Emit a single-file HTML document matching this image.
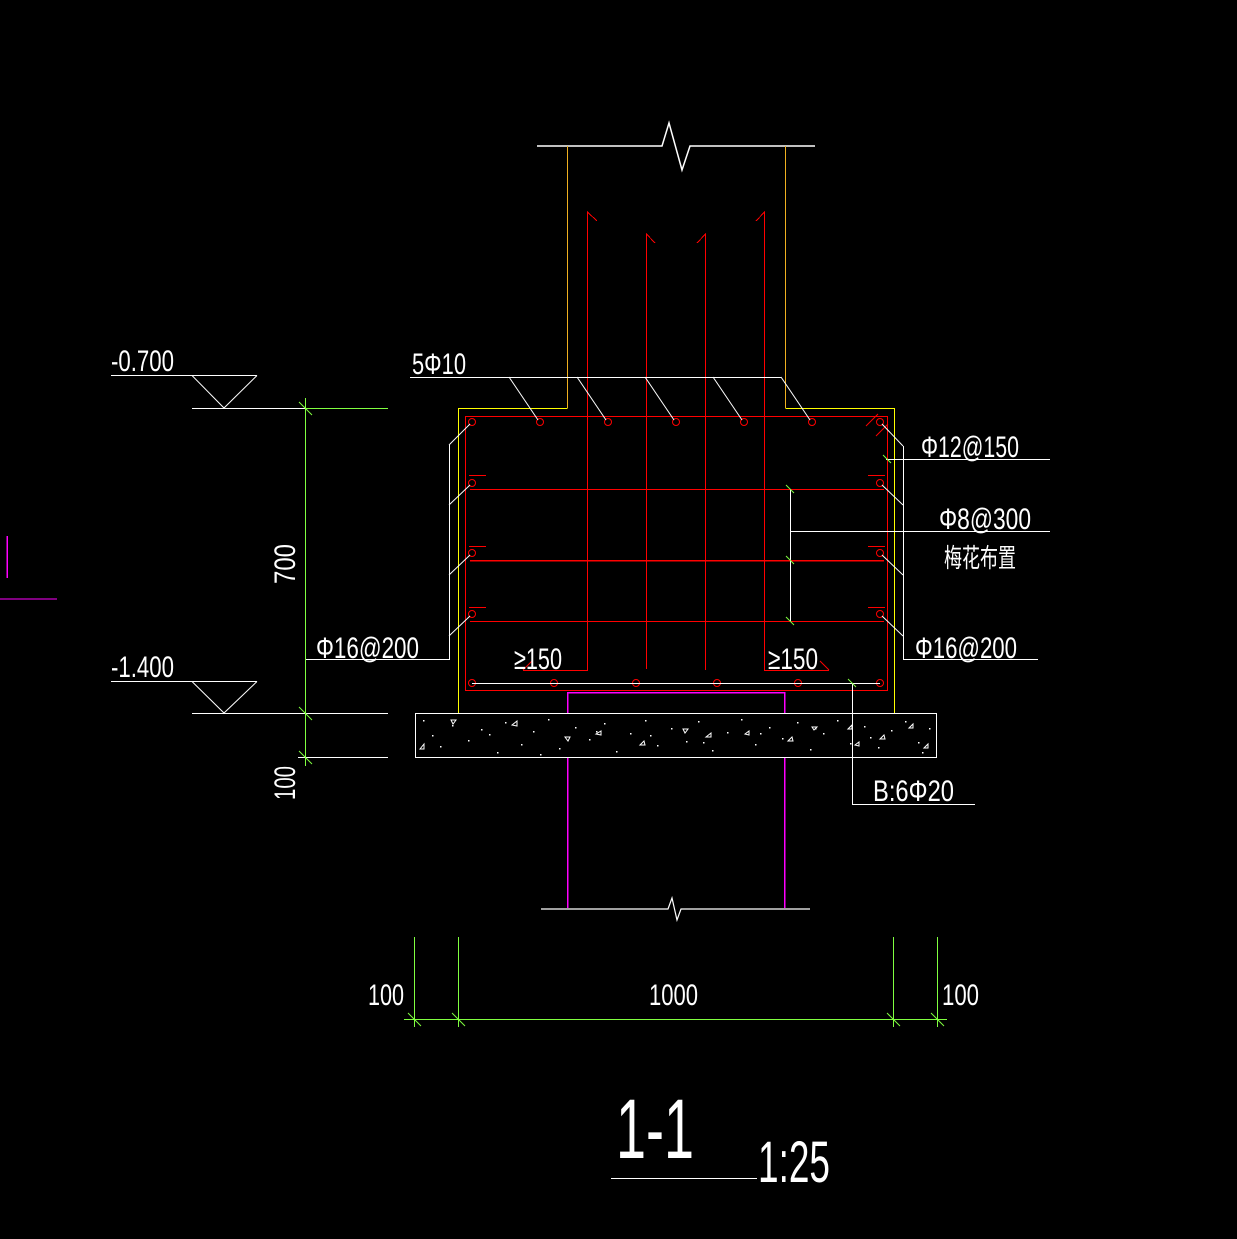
<!DOCTYPE html>
<html><head><meta charset="utf-8"><style>
html,body{margin:0;padding:0;background:#000;}
svg{display:block;}
text{font-family:"Liberation Sans","Noto Sans CJK SC",sans-serif;fill:#fff;}
</style></head><body>
<svg width="1237" height="1239" viewBox="0 0 1237 1239" xmlns="http://www.w3.org/2000/svg" shape-rendering="crispEdges">
<rect width="1237" height="1239" fill="#000"/>
<!-- left stray -->
<line x1="7" y1="536" x2="7" y2="578" stroke="#ff00ff" stroke-width="1.5"/>
<line x1="0" y1="599" x2="57" y2="599" stroke="#ff00ff" stroke-width="1"/>

<!-- column top break -->
<polyline points="537,146 662,146 669,123 682,170 690,146 815,146" fill="none" stroke="#fff" stroke-width="1.5" shape-rendering="auto"/>
<line x1="567.5" y1="146" x2="567.5" y2="408" stroke="#f0b020" stroke-width="1"/>
<line x1="785.5" y1="146" x2="785.5" y2="408" stroke="#f0b020" stroke-width="1"/>
<!-- yellow outline -->
<polyline points="567.5,408.5 458.5,408.5 458.5,713" fill="none" stroke="#ffff00" stroke-width="1.2"/>
<polyline points="785.5,408.5 894.5,408.5 894.5,713" fill="none" stroke="#ffff00" stroke-width="1.2"/>

<!-- red stirrup -->
<rect x="465.5" y="416.5" width="422" height="274" fill="none" stroke="#ff0000" stroke-width="1.2"/>
<g stroke="#ff0000" stroke-width="1">
<line x1="470" y1="489.5" x2="884" y2="489.5"/>
<line x1="470" y1="560.5" x2="884" y2="560.5" stroke-width="1.5"/>
<line x1="470" y1="621.5" x2="884" y2="621.5"/>
<!-- hooks -->
<line x1="469" y1="475.5" x2="486" y2="475.5"/><line x1="868" y1="475.5" x2="885" y2="475.5"/>
<line x1="469" y1="546.5" x2="486" y2="546.5"/><line x1="868" y1="546.5" x2="885" y2="546.5"/>
<line x1="469" y1="607.5" x2="486" y2="607.5"/><line x1="868" y1="607.5" x2="885" y2="607.5"/>
<line x1="866" y1="426" x2="878" y2="414" shape-rendering="auto"/>
<line x1="876" y1="436" x2="888" y2="424" shape-rendering="auto"/>
<!-- vertical bars -->
<polyline points="597,221 587.5,212 587.5,670.5 523,670.5" fill="none"/>
<line x1="523" y1="670" x2="532" y2="661" shape-rendering="auto"/>
<polyline points="655,243 646.5,234 646.5,669" fill="none"/>
<polyline points="697,243 705.5,234 705.5,670" fill="none"/>
<polyline points="756,221 764.5,212 764.5,670.5 829,670.5" fill="none"/>
<line x1="829" y1="670" x2="820" y2="661" shape-rendering="auto"/>
</g>
<!-- rebar dots -->
<g fill="none" stroke="#ff0000" stroke-width="1" shape-rendering="auto">
<circle cx="472" cy="422" r="3.5"/><circle cx="540" cy="422" r="3.5"/><circle cx="608" cy="422" r="3.5"/><circle cx="676" cy="422" r="3.5"/><circle cx="744" cy="422" r="3.5"/><circle cx="812" cy="422" r="3.5"/><circle cx="880" cy="422" r="3.5"/>
<circle cx="472" cy="483" r="3.5"/><circle cx="880" cy="483" r="3.5"/>
<circle cx="472" cy="553" r="3.5"/><circle cx="880" cy="553" r="3.5"/>
<circle cx="472" cy="614" r="3.5"/><circle cx="880" cy="614" r="3.5"/>
<circle cx="472" cy="683" r="3.5"/><circle cx="554" cy="683" r="3.5"/><circle cx="636" cy="683" r="3.5"/><circle cx="717" cy="683" r="3.5"/><circle cx="798" cy="683" r="3.5"/><circle cx="880" cy="683" r="3.5"/>
</g>
<line x1="472" y1="683.5" x2="880" y2="683.5" stroke="#fff" stroke-width="1"/>

<!-- pile -->
<polyline points="567.5,908 567.5,692.5 784.5,692.5 784.5,908" fill="none" stroke="#ff00ff" stroke-width="1.5"/>
<polyline points="541,909 668,909 672,898 677,920 681,909 810,909" fill="none" stroke="#fff" stroke-width="1.2" shape-rendering="auto"/>

<!-- pad -->
<rect x="415.5" y="713.5" width="521" height="44" fill="#000" stroke="#fff" stroke-width="1.2"/>
<g fill="#fff">
<rect x="423" y="720" width="1.5" height="1.5"/><rect x="440" y="746" width="1.5" height="1.5"/><rect x="452" y="725" width="1.5" height="1.5"/><rect x="468" y="740" width="1.5" height="1.5"/><rect x="481" y="729" width="1.5" height="1.5"/><rect x="497" y="752" width="1.5" height="1.5"/><rect x="505" y="722" width="1.5" height="1.5"/><rect x="521" y="744" width="1.5" height="1.5"/><rect x="533" y="731" width="1.5" height="1.5"/><rect x="548" y="719" width="1.5" height="1.5"/><rect x="559" y="748" width="1.5" height="1.5"/><rect x="575" y="727" width="1.5" height="1.5"/><rect x="589" y="739" width="1.5" height="1.5"/><rect x="604" y="723" width="1.5" height="1.5"/><rect x="616" y="751" width="1.5" height="1.5"/><rect x="630" y="733" width="1.5" height="1.5"/><rect x="645" y="720" width="1.5" height="1.5"/><rect x="657" y="745" width="1.5" height="1.5"/><rect x="671" y="728" width="1.5" height="1.5"/><rect x="686" y="741" width="1.5" height="1.5"/><rect x="698" y="721" width="1.5" height="1.5"/><rect x="712" y="750" width="1.5" height="1.5"/><rect x="727" y="732" width="1.5" height="1.5"/><rect x="741" y="719" width="1.5" height="1.5"/><rect x="755" y="744" width="1.5" height="1.5"/><rect x="769" y="727" width="1.5" height="1.5"/><rect x="782" y="738" width="1.5" height="1.5"/><rect x="797" y="722" width="1.5" height="1.5"/><rect x="810" y="749" width="1.5" height="1.5"/><rect x="823" y="733" width="1.5" height="1.5"/><rect x="837" y="720" width="1.5" height="1.5"/><rect x="850" y="743" width="1.5" height="1.5"/><rect x="864" y="726" width="1.5" height="1.5"/><rect x="878" y="747" width="1.5" height="1.5"/><rect x="891" y="730" width="1.5" height="1.5"/><rect x="905" y="721" width="1.5" height="1.5"/><rect x="918" y="742" width="1.5" height="1.5"/><rect x="929" y="728" width="1.5" height="1.5"/>
<rect x="432" y="735" width="1.5" height="1.5"/><rect x="489" y="734" width="1.5" height="1.5"/><rect x="540" y="754" width="1.5" height="1.5"/><rect x="596" y="731" width="1.5" height="1.5"/><rect x="650" y="735" width="1.5" height="1.5"/><rect x="703" y="742" width="1.5" height="1.5"/><rect x="760" y="733" width="1.5" height="1.5"/><rect x="815" y="728" width="1.5" height="1.5"/><rect x="870" y="737" width="1.5" height="1.5"/><rect x="922" y="752" width="1.5" height="1.5"/>
</g>
<g fill="none" stroke="#fff" stroke-width="1" shape-rendering="auto">
<path d="M420,749 l4,-5 l0,5z"/><path d="M451,720 l5,0 l-3,4z"/><path d="M512,725 l5,-4 l0,5z"/><path d="M565,737 l5,0 l-2,4z"/><path d="M596,734 l5,-3 l0,4z"/><path d="M640,745 l4,-4 l1,4z"/><path d="M683,729 l5,0 l-3,4z"/><path d="M706,737 l5,-4 l0,4z"/><path d="M745,734 l4,-3 l0,4z"/><path d="M788,741 l4,-4 l1,4z"/><path d="M812,727 l5,0 l-3,3z"/><path d="M848,729 l4,-4 l0,4z"/><path d="M880,739 l4,-4 l1,4z"/><path d="M855,745 l4,-3 l0,4z"/><path d="M909,728 l4,-4 l0,4z"/><path d="M924,748 l4,-4 l0,4z"/>
</g>

<!-- 5Φ10 leader -->
<g stroke="#fff" stroke-width="1" shape-rendering="auto">
<line x1="410" y1="377.5" x2="781" y2="377.5" shape-rendering="crispEdges"/>
<line x1="509" y1="377" x2="538" y2="420"/><line x1="577" y1="377" x2="606" y2="420"/><line x1="645" y1="377" x2="674" y2="420"/><line x1="713" y1="377" x2="742" y2="420"/><line x1="781" y1="377" x2="810" y2="420"/>
<!-- left leaders -->
<polyline points="305,659.5 449.5,659.5 449.5,445" fill="none" shape-rendering="crispEdges"/>
<line x1="449" y1="445" x2="470" y2="424"/><line x1="449" y1="505" x2="470" y2="485"/><line x1="449" y1="575" x2="470" y2="555"/><line x1="449" y1="636" x2="470" y2="616"/>
<!-- right leaders -->
<polyline points="1038,659.5 903.5,659.5 903.5,446" fill="none" shape-rendering="crispEdges"/>
<line x1="903" y1="446" x2="882" y2="424"/><line x1="903" y1="505" x2="882" y2="485"/><line x1="903" y1="575" x2="882" y2="555"/><line x1="903" y1="636" x2="882" y2="616"/>
<line x1="886" y1="459.5" x2="1050" y2="459.5" shape-rendering="crispEdges"/>
<polyline points="790.5,489 790.5,621" fill="none" shape-rendering="crispEdges"/>
<line x1="790" y1="531.5" x2="1050" y2="531.5" shape-rendering="crispEdges"/>
<polyline points="852.5,683 852.5,804.5 975,804.5" fill="none" shape-rendering="crispEdges"/>
</g>
<g stroke="#80ff40" stroke-width="1" shape-rendering="auto">
<line x1="786" y1="485" x2="794" y2="493"/><line x1="786" y1="556" x2="794" y2="564"/><line x1="786" y1="617" x2="794" y2="625"/>
<line x1="883" y1="455" x2="891" y2="463"/><line x1="848" y1="679" x2="856" y2="687"/>
</g>

<!-- elevations -->
<g stroke="#fff" stroke-width="1" shape-rendering="auto" fill="none">
<line x1="111" y1="375.5" x2="257" y2="375.5"/>
<polyline points="192,375.5 224,408 257,375.5"/>
<line x1="192" y1="408.5" x2="305" y2="408.5"/>
<line x1="111" y1="681.5" x2="257" y2="681.5"/>
<polyline points="192,681.5 224,713 257,681.5"/>
<line x1="192" y1="713.5" x2="388" y2="713.5"/>
<line x1="298" y1="757.5" x2="388" y2="757.5"/>
</g>
<g stroke="#80ff40" stroke-width="1" fill="none">
<line x1="305" y1="408.5" x2="388" y2="408.5"/>
<line x1="305.5" y1="398" x2="305.5" y2="766"/>
<line x1="299" y1="402" x2="312" y2="415" shape-rendering="auto"/>
<line x1="299" y1="707" x2="312" y2="720" shape-rendering="auto"/>
<line x1="299" y1="751" x2="312" y2="764" shape-rendering="auto"/>
<!-- bottom dims -->
<line x1="414.5" y1="937" x2="414.5" y2="1027"/>
<line x1="458.5" y1="937" x2="458.5" y2="1027"/>
<line x1="893.5" y1="937" x2="893.5" y2="1027"/>
<line x1="937.5" y1="937" x2="937.5" y2="1027"/>
<line x1="404" y1="1019.5" x2="947" y2="1019.5"/>
<line x1="408" y1="1013" x2="421" y2="1026" shape-rendering="auto"/>
<line x1="452" y1="1013" x2="465" y2="1026" shape-rendering="auto"/>
<line x1="887" y1="1013" x2="900" y2="1026" shape-rendering="auto"/>
<line x1="931" y1="1013" x2="944" y2="1026" shape-rendering="auto"/>
</g>

<!-- texts -->
<g font-size="30" lengthAdjust="spacingAndGlyphs">
<text x="111" y="371" textLength="63" lengthAdjust="spacingAndGlyphs">-0.700</text>
<text x="111" y="677" textLength="63" lengthAdjust="spacingAndGlyphs">-1.400</text>
<text x="412" y="374" textLength="54" lengthAdjust="spacingAndGlyphs">5Φ10</text>
<text x="921" y="457" textLength="98" lengthAdjust="spacingAndGlyphs">Φ12@150</text>
<text x="939" y="529" textLength="92" lengthAdjust="spacingAndGlyphs">Φ8@300</text>
<text x="944" y="567" font-size="26" textLength="72" lengthAdjust="spacingAndGlyphs">梅花布置</text>
<text x="915" y="658" textLength="102" lengthAdjust="spacingAndGlyphs">Φ16@200</text>
<text x="316" y="658" textLength="103" lengthAdjust="spacingAndGlyphs">Φ16@200</text>
<text x="514" y="669" textLength="48" lengthAdjust="spacingAndGlyphs">≥150</text>
<text x="768" y="669" textLength="50" lengthAdjust="spacingAndGlyphs">≥150</text>
<text x="873" y="801" textLength="81" lengthAdjust="spacingAndGlyphs">B:6Φ20</text>
<text x="368" y="1005" textLength="36" lengthAdjust="spacingAndGlyphs">100</text>
<text x="649" y="1005" textLength="49" lengthAdjust="spacingAndGlyphs">1000</text>
<text x="942" y="1005" textLength="37" lengthAdjust="spacingAndGlyphs">100</text>
<text transform="translate(295,584) rotate(-90)" textLength="40" lengthAdjust="spacingAndGlyphs">700</text>
<text transform="translate(295,800) rotate(-90)" textLength="34" lengthAdjust="spacingAndGlyphs">100</text>
<text x="616" y="1158" font-size="84" textLength="78" lengthAdjust="spacingAndGlyphs">1-1</text>
<text x="758" y="1182" font-size="58" textLength="72" lengthAdjust="spacingAndGlyphs">1:25</text>
</g>
<line x1="611" y1="1178.5" x2="757" y2="1178.5" stroke="#fff" stroke-width="1.2"/>
</svg>
</body></html>
